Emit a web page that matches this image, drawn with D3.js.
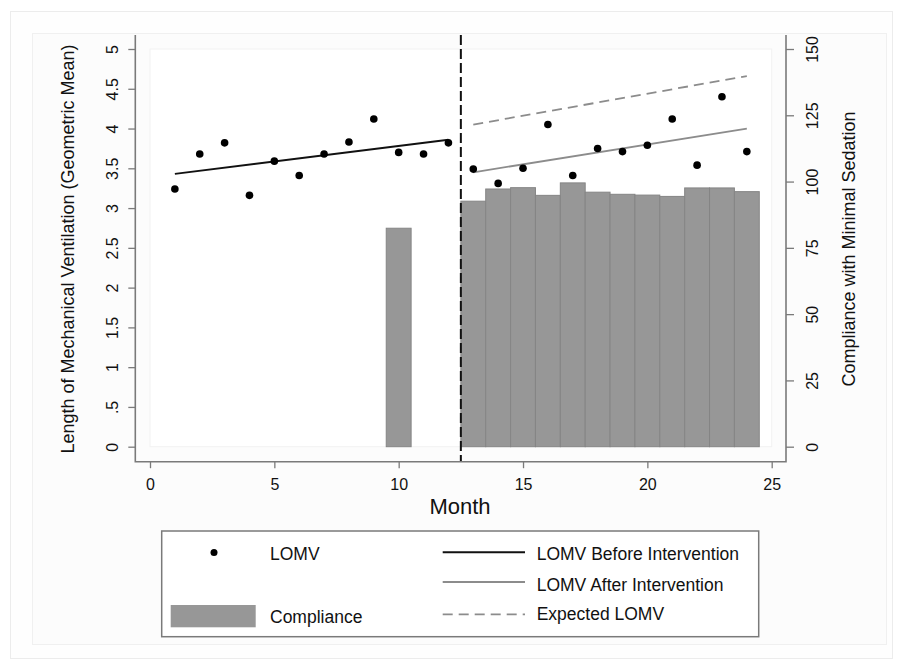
<!DOCTYPE html>
<html>
<head>
<meta charset="utf-8">
<script src="https://cdn.jsdelivr.net/npm/d3@7"></script>
<style>
  body { margin: 0; background: #fff; }
  text { font-family: "Liberation Sans", Arial, sans-serif; fill: #111; }
</style>
</head>
<body>
<div id="chart"></div>
<script>
// monthly LOMV (geometric mean), months 1-24
var months = [1, 2, 3, 4, 5, 6, 7, 8, 9, 10, 11, 12, 13, 14, 15, 16, 17, 18, 19, 20, 21, 22, 23, 24];
var lomv = [3.24, 3.68, 3.82, 3.16, 3.59, 3.41, 3.68, 3.83, 4.12, 3.70, 3.68, 3.82,
            3.49, 3.31, 3.50, 4.05, 3.41, 3.75, 3.71, 3.79, 4.12, 3.54, 4.40, 3.71];

// compliance with minimal sedation (right axis)
var complianceMonths = [10, 13, 14, 15, 16, 17, 18, 19, 20, 21, 22, 23, 24];
var compliance = [82.4, 92.6, 97.2, 97.7, 94.8, 99.5, 96.0, 95.2, 94.9, 94.4, 97.6, 97.6, 96.2];

// fitted lines (start month, end month)
var beforeLine = [[1, 3.43], [12, 3.86]];
var afterLine = [[13, 3.45], [24, 4.00]];
var expectedLine = [[13, 4.05], [24, 4.66]];
var interventionMonth = 12.5;

var xTicks = [0, 5, 10, 15, 20, 25];
var yTicks = [0, 0.5, 1, 1.5, 2, 2.5, 3, 3.5, 4, 4.5, 5];
var yTickLabels = ["0", ".5", "1", "1.5", "2", "2.5", "3", "3.5", "4", "4.5", "5"];
var y2Ticks = [0, 25, 50, 75, 100, 125, 150];

var width = 897;
var height = 662;

var svg = d3.select('#chart')
  .append('svg')
  .attr('width', width)
  .attr('height', height);

// faint frames like the scanned figure
svg.append('rect')
  .attr('x', 10.5).attr('y', 11.5).attr('width', 882).attr('height', 647)
  .attr('fill', '#fefefe').attr('stroke', '#ececec');
svg.append('rect')
  .attr('x', 32.5).attr('y', 33.5).attr('width', 854).attr('height', 611)
  .attr('fill', '#fcfcfc').attr('stroke', '#f0f0f0');

var x = d3.scaleLinear().domain([0, 25]).range([150, 771.7]);
var y = d3.scaleLinear().domain([0, 5]).range([446.7, 49]);
var y2 = d3.scaleLinear().domain([0, 150]).range([446.7, 49]);

var axisLeft = 135.3, axisRight = 786, axisBottom = 461.7, axisTop = 35;

// inner plot region
svg.append('rect')
  .attr('x', x(0)).attr('y', y(5))
  .attr('width', x(25) - x(0)).attr('height', y(0) - y(5))
  .attr('fill', '#fff').attr('stroke', '#f2f2f2');

// compliance bars
svg.append('g')
  .selectAll('rect')
  .data(complianceMonths)
  .enter().append('rect')
    .attr('x', function(d) { return x(d - 0.5); })
    .attr('width', function(d) { return x(d + 0.5) - x(d - 0.5); })
    .attr('y', function(d, i) { return y2(compliance[i]); })
    .attr('height', function(d, i) { return y2(0) - y2(compliance[i]); })
    .attr('fill', '#979797')
    .attr('stroke', '#858585')
    .attr('stroke-width', 1);

// intervention line
svg.append('line')
  .attr('x1', x(interventionMonth)).attr('x2', x(interventionMonth))
  .attr('y1', axisTop).attr('y2', axisBottom)
  .attr('stroke', '#111').attr('stroke-width', 2)
  .attr('stroke-dasharray', '10,4');

var line = d3.line()
  .x(function(d) { return x(d[0]); })
  .y(function(d) { return y(d[1]); });

svg.append('path').attr('d', line(beforeLine))
  .attr('fill', 'none').attr('stroke', '#111').attr('stroke-width', 2);
svg.append('path').attr('d', line(afterLine))
  .attr('fill', 'none').attr('stroke', '#8c8c8c').attr('stroke-width', 1.8);
svg.append('path').attr('d', line(expectedLine))
  .attr('fill', 'none').attr('stroke', '#8c8c8c').attr('stroke-width', 1.8)
  .attr('stroke-dasharray', '10,6');

// LOMV points
svg.append('g')
  .selectAll('circle')
  .data(months)
  .enter().append('circle')
    .attr('cx', function(d) { return x(d); })
    .attr('cy', function(d, i) { return y(lomv[i]); })
    .attr('r', 3.8)
    .attr('fill', '#000');

// axes
var axisColor = '#7a7a7a';

var gx = svg.append('g')
  .attr('transform', 'translate(0,' + axisBottom + ')')
  .call(d3.axisBottom(x).tickValues(xTicks).tickSize(6.5).tickPadding(10));
gx.selectAll('text').attr('font-size', 16).style('font-family', '"Liberation Sans", Arial, sans-serif').attr('fill', '#111');

var gy = svg.append('g')
  .attr('transform', 'translate(' + axisLeft + ',0)')
  .call(d3.axisLeft(y).tickValues(yTicks).tickSize(7)
    .tickFormat(function(d, i) { return yTickLabels[i]; }));
gy.selectAll('text')
  .attr('x', null).attr('dy', '0.35em')
  .attr('text-anchor', 'middle')
  .attr('transform', 'translate(-22.6,0) rotate(-90)')
  .attr('font-size', 16).style('font-family', '"Liberation Sans", Arial, sans-serif').attr('fill', '#111');

var gy2 = svg.append('g')
  .attr('transform', 'translate(' + axisRight + ',0)')
  .call(d3.axisRight(y2).tickValues(y2Ticks).tickSize(8));
gy2.selectAll('text')
  .attr('x', null).attr('dy', '0.35em')
  .attr('text-anchor', 'middle')
  .attr('transform', 'translate(26,0) rotate(-90)')
  .attr('font-size', 16).style('font-family', '"Liberation Sans", Arial, sans-serif').attr('fill', '#111');

[gx, gy, gy2].forEach(function(g) {
  g.select('.domain').remove();
  g.selectAll('line').attr('stroke', axisColor).attr('stroke-width', 1.3);
});

// axis lines extend past the plot region
svg.append('path')
  .attr('d', 'M' + axisLeft + ',' + axisTop + 'V' + axisBottom + 'H' + axisRight + 'V' + axisTop)
  .attr('fill', 'none').attr('stroke', axisColor).attr('stroke-width', 1.6);

// titles
svg.append('text')
  .attr('transform', 'translate(68,249) rotate(-90)')
  .attr('text-anchor', 'middle').attr('dy', '0.35em')
  .attr('font-size', 18)
  .text('Length of Mechanical Ventilation (Geometric Mean)');

svg.append('text')
  .attr('transform', 'translate(849,249) rotate(-90)')
  .attr('text-anchor', 'middle').attr('dy', '0.35em')
  .attr('font-size', 18)
  .text('Compliance with Minimal Sedation');

svg.append('text')
  .attr('x', 460).attr('y', 513.5)
  .attr('text-anchor', 'middle')
  .attr('font-size', 22)
  .text('Month');

// legend
var legend = svg.append('g');
legend.append('rect')
  .attr('x', 161.7).attr('y', 531).attr('width', 597).attr('height', 105.7)
  .attr('fill', '#fff').attr('stroke', '#7a7a7a').attr('stroke-width', 1.5);

legend.append('circle').attr('cx', 214).attr('cy', 552.5).attr('r', 3.5).attr('fill', '#000');
legend.append('text').attr('x', 270).attr('y', 560).attr('font-size', 17.5).text('LOMV');

legend.append('rect')
  .attr('x', 170.7).attr('y', 605).attr('width', 85).attr('height', 22.3)
  .attr('fill', '#979797');
legend.append('text').attr('x', 270).attr('y', 622.7).attr('font-size', 17.5).text('Compliance');

legend.append('line').attr('x1', 442.7).attr('x2', 525).attr('y1', 552.3).attr('y2', 552.3)
  .attr('stroke', '#111').attr('stroke-width', 2);
legend.append('text').attr('x', 536.7).attr('y', 560).attr('font-size', 17.5).text('LOMV Before Intervention');

legend.append('line').attr('x1', 442.7).attr('x2', 525).attr('y1', 582).attr('y2', 582)
  .attr('stroke', '#8c8c8c').attr('stroke-width', 1.8);
legend.append('text').attr('x', 536.7).attr('y', 591.3).attr('font-size', 17.5).text('LOMV After Intervention');

legend.append('line').attr('x1', 442.7).attr('x2', 525).attr('y1', 614.3).attr('y2', 614.3)
  .attr('stroke', '#8c8c8c').attr('stroke-width', 1.8).attr('stroke-dasharray', '10,6');
legend.append('text').attr('x', 536.7).attr('y', 620).attr('font-size', 17.5).text('Expected LOMV');
</script>
</body>
</html>
